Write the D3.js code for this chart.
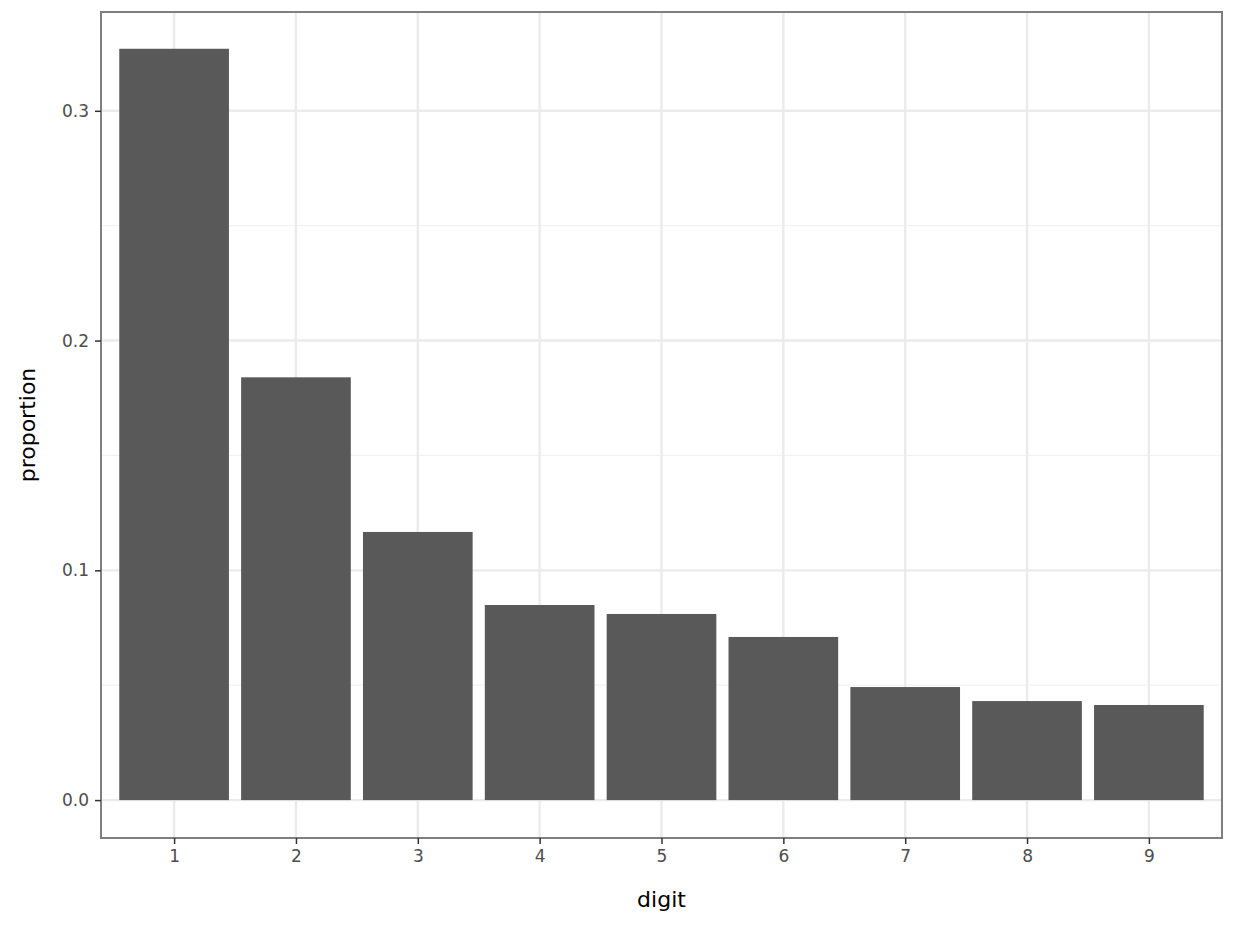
<!DOCTYPE html>
<html><head><meta charset="utf-8">
<script src="https://cdn.jsdelivr.net/npm/d3@7"></script>
<style>body{margin:0;background:#fff}svg{display:block}</style>
</head><body>
<svg id="chart" width="1256" height="933"></svg>
<script>
const digits = [1, 2, 3, 4, 5, 6, 7, 8, 9]
const proportions = [0.327, 0.184, 0.1167, 0.0849, 0.081, 0.071, 0.0492, 0.0431, 0.0414]
const y_ticks = [0, 0.1, 0.2, 0.3]
const y_minor = [0.05, 0.15, 0.25]

const svg = d3.select("#chart")
const pLeft = 101, pRight = 1222, pTop = 12, pBottom = 838
const x = d3.scaleLinear().domain([0.4, 9.6]).range([pLeft, pRight])
const y = d3.scaleLinear().domain([-0.0165, 0.343]).range([pBottom, pTop])
const bw = x(1.45) - x(0.55)

// grid
svg.selectAll(".minor").data(y_minor).join("line")
  .attr("x1", pLeft).attr("x2", pRight).attr("y1", d => y(d)).attr("y2", d => y(d))
  .attr("stroke", "#f2f2f2").attr("stroke-width", 1.2)
svg.selectAll(".hmaj").data(y_ticks).join("line")
  .attr("x1", pLeft).attr("x2", pRight).attr("y1", d => y(d)).attr("y2", d => y(d))
  .attr("stroke", "#ebebeb").attr("stroke-width", 2.4)
svg.selectAll(".vmaj").data(digits).join("line")
  .attr("y1", pTop).attr("y2", pBottom).attr("x1", d => x(d)).attr("x2", d => x(d))
  .attr("stroke", "#ebebeb").attr("stroke-width", 2.4)

// bars
svg.selectAll(".bar").data(digits).join("rect")
  .attr("x", d => x(d) - bw / 2).attr("width", bw)
  .attr("y", (d, i) => y(proportions[i]))
  .attr("height", (d, i) => y(0) - y(proportions[i]))
  .attr("fill", "#595959")

svg.append("rect").attr("x", pLeft).attr("y", pTop)
  .attr("width", pRight - pLeft).attr("height", pBottom - pTop)
  .attr("fill", "none").attr("stroke", "#7f7f7f").attr("stroke-width", 2)

// axes
const xa = svg.append("g").attr("transform", `translate(0,${pBottom})`)
  .call(d3.axisBottom(x).tickValues(digits).tickSize(6).tickPadding(6).tickFormat(d3.format("d")))
const ya = svg.append("g").attr("transform", `translate(${pLeft},0)`)
  .call(d3.axisLeft(y).tickValues(y_ticks).tickSize(6).tickPadding(6).tickFormat(d3.format(".1f")))
;[xa, ya].forEach(a => {
  a.select(".domain").remove()
  a.selectAll("line").attr("stroke", "#333").attr("stroke-width", 1.5)
  a.selectAll("text").attr("fill", "#4d4d4d").style("font", "17px 'DejaVu Sans'")
})

svg.append("text").attr("x", (pLeft + pRight) / 2).attr("y", 907)
  .attr("text-anchor", "middle").style("font", "22px 'DejaVu Sans'").text("digit")
svg.append("text").attr("transform", `translate(35,${(pTop + pBottom) / 2}) rotate(-90)`)
  .attr("text-anchor", "middle").style("font", "22px 'DejaVu Sans'").text("proportion")
</script>
</body></html>
